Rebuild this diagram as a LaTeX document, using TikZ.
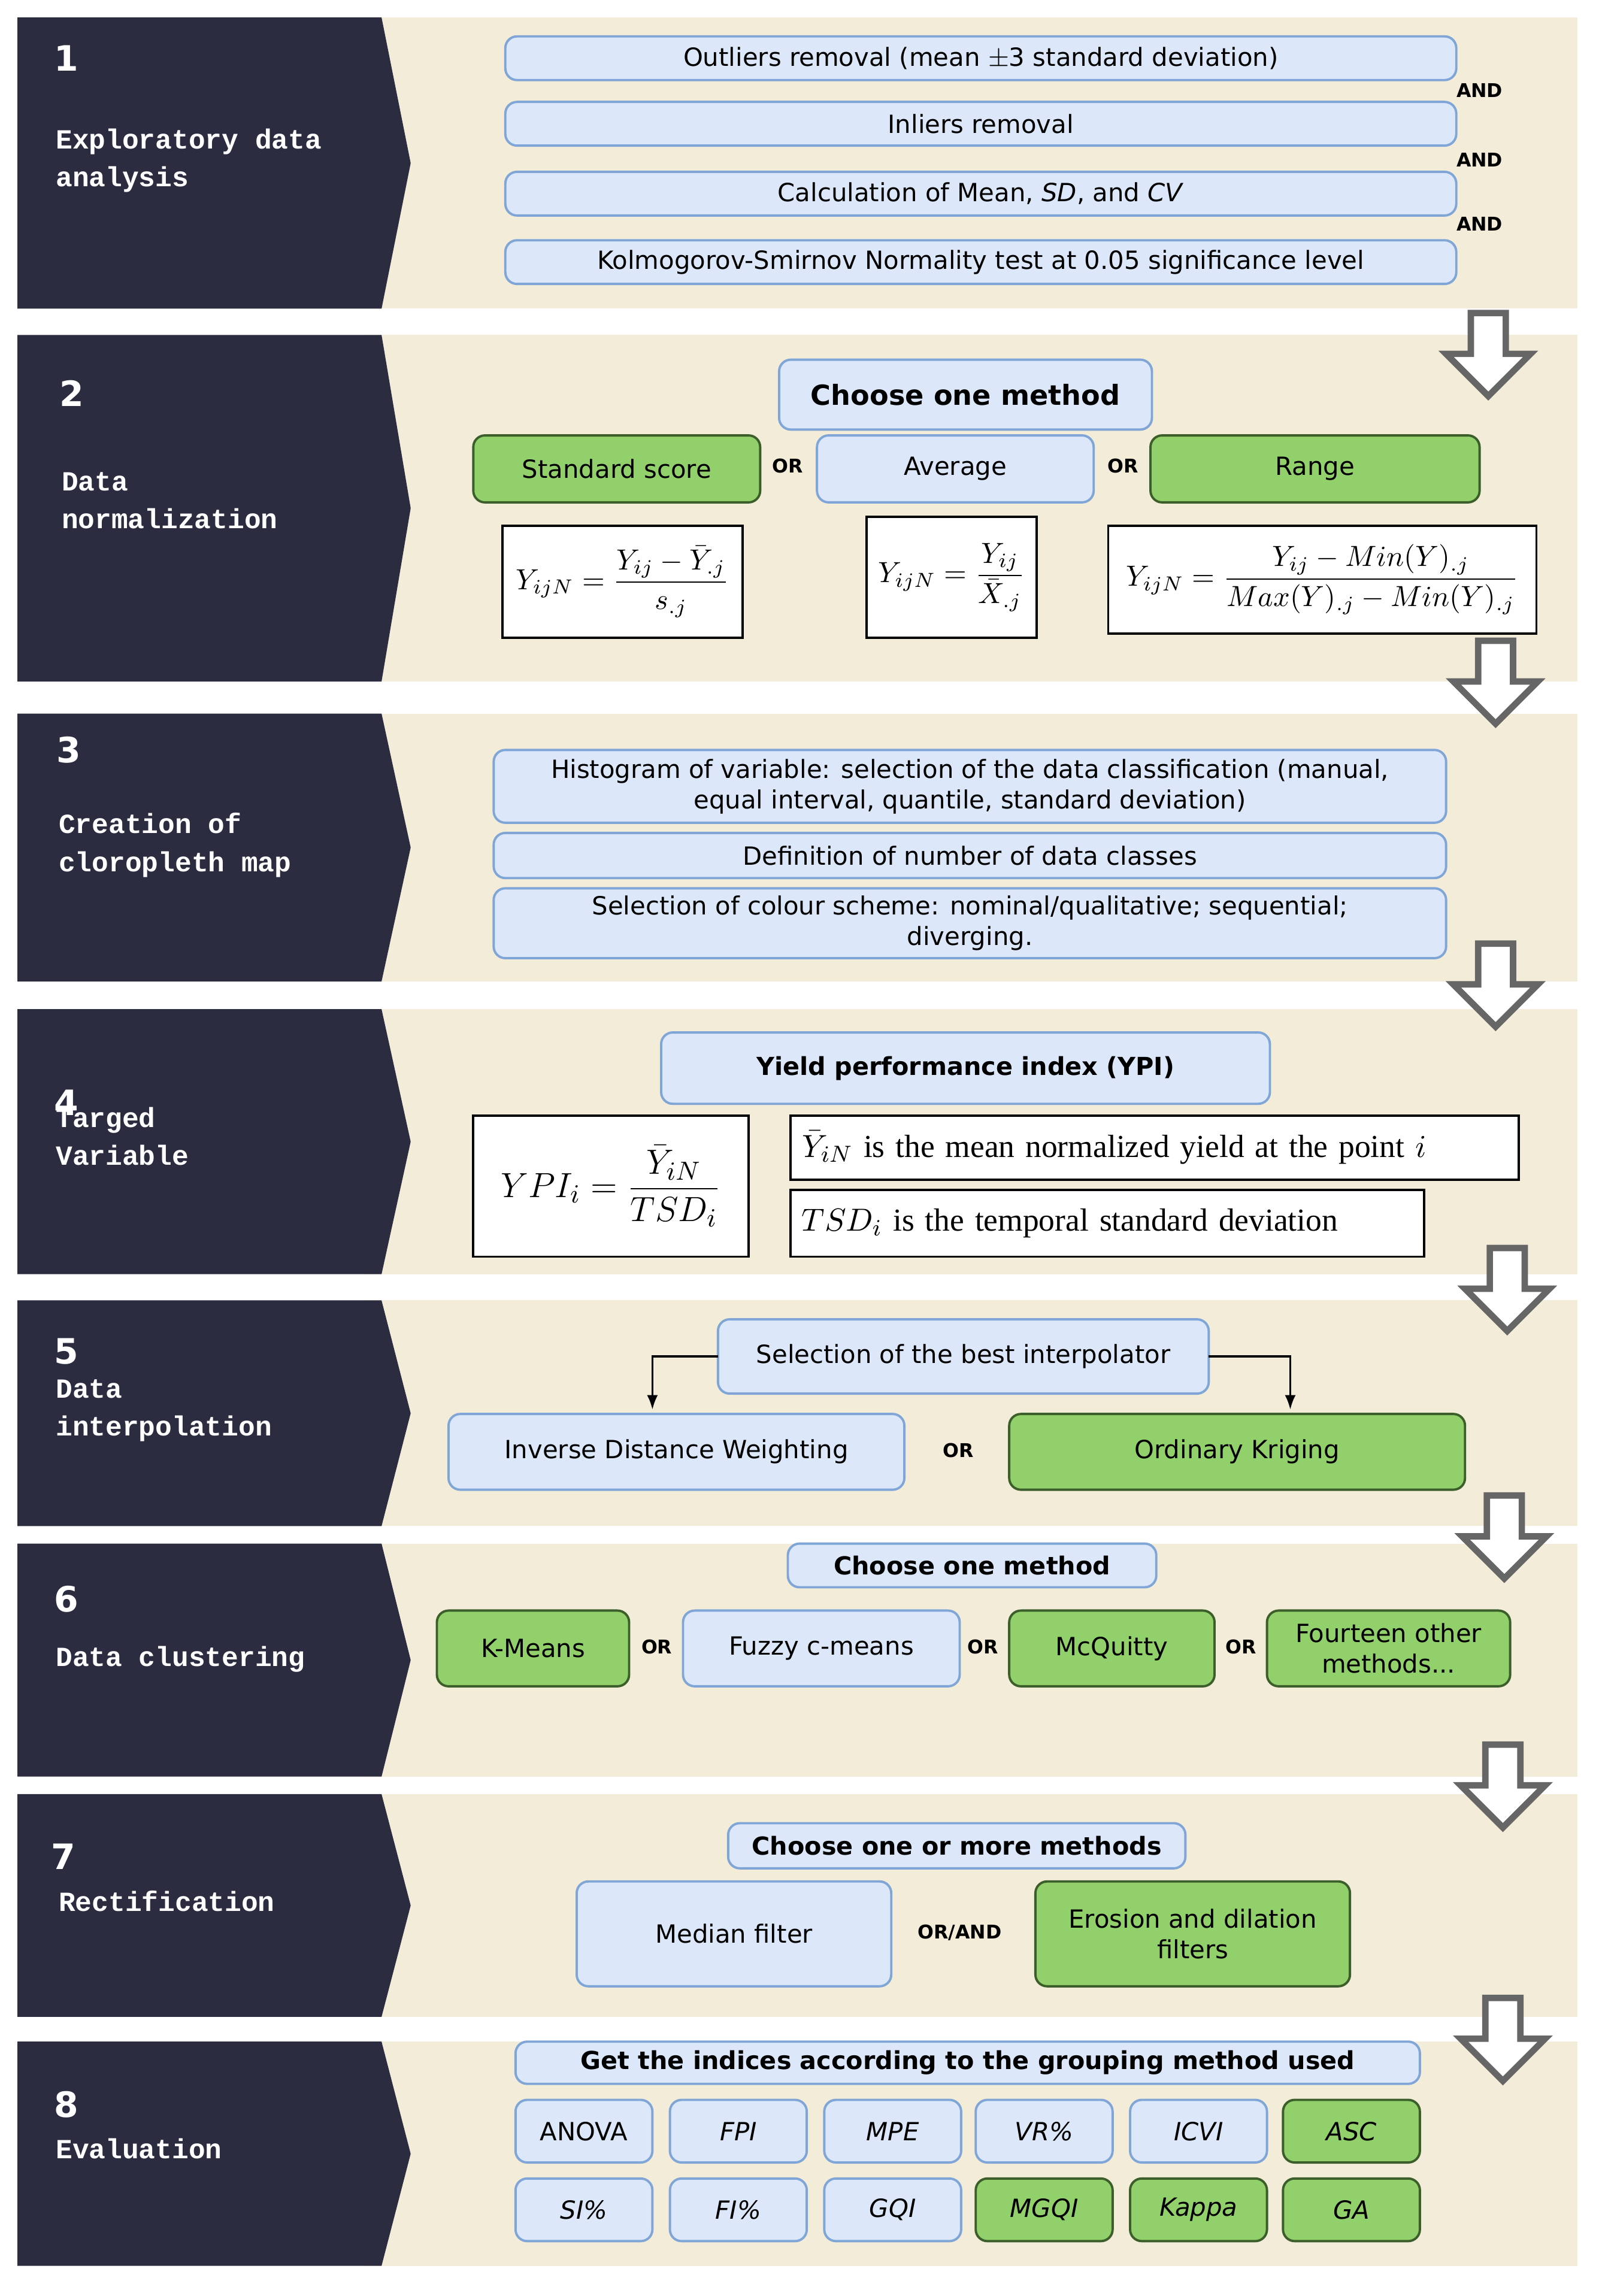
\documentclass[tikz,border=0pt]{standalone}
\usepackage{amsmath}
\usepackage{fontspec}
\setmainfont{DejaVu Sans}
\newfontfamily\lab{Liberation Mono}
\newfontfamily\tms{Liberation Serif}
\usetikzlibrary{arrows.meta,calc}
\definecolor{beige}{HTML}{F3ECD8}
\definecolor{dark}{HTML}{2C2C40}
\definecolor{lb}{HTML}{DCE8FA}
\definecolor{lbb}{HTML}{7FA6D6}
\definecolor{gr}{HTML}{92D06C}
\definecolor{grb}{HTML}{3B5E2A}
\tikzset{
 bl/.style={draw=lbb,fill=lb,rounded corners=4pt,line width=0.8pt,align=center,font=\fontsize{8.6}{10.5}\selectfont},
 gn/.style={draw=grb,fill=gr,rounded corners=4pt,line width=0.8pt,align=center,font=\fontsize{8.6}{10.5}\selectfont},
 fm/.style={draw=black,fill=white,line width=0.8pt,align=center},
 tl/.style={font=\fontsize{6.5}{7}\selectfont\bfseries},
 num/.style={text=white,font=\fontsize{12}{12}\selectfont\bfseries,anchor=west},
 lbl/.style={text=white,font=\fontsize{9.5}{13}\lab\bfseries,anchor=north west,align=left,inner sep=0pt},
}
\newcommand\bx[7]{\node[#6,inner sep=1pt,outer sep=0pt,minimum width={(#4-#2)*0.5pt},minimum height={(#5-#3)*0.5pt}] (#1) at ({(#2+#4)/2},{-(#3+#5)/2}) {#7};}
\newcommand\band[2]{\fill[beige] (250,-#1) rectangle (1083,-#2);
 \fill[dark] (12,-#1) -- (262,-#1) -- (282,{-(#1+#2)/2}) -- (262,-#2) -- (12,-#2) -- cycle;}
\newcommand\darr[2]{\draw[gray!80!black,line width=2.2pt,fill=white,line join=miter]
 ({#1-12},-#2) -- ({#1+12},-#2) -- ({#1+12},{-#2-28}) -- ({#1+29},{-#2-28}) -- (#1,{-#2-57}) -- ({#1-29},{-#2-28}) -- ({#1-12},{-#2-28}) -- cycle;}
\begin{document}
\begin{tikzpicture}[x=0.5pt,y=0.5pt]
\useasboundingbox (0,0) rectangle (1100,-1576.7);
\fill[white] (0,0) rectangle (1100,-1576.7);
\band{12}{212}\band{230}{468}\band{490}{674}\band{693}{875}\band{893}{1048}\band{1060}{1220}\band{1232}{1385}\band{1402}{1556}
% labels
\node[num] at (30,-40) {1};
\node[lbl] at (38,-88) {Exploratory data\\analysis};
\node[num] at (34,-270) {2};
\node[lbl] at (42,-324) {Data\\normalization};
\node[num] at (32,-515) {3};
\node[lbl] at (40,-558) {Creation of\\cloropleth map};
\node[lbl] at (38,-760) {Targed\\Variable};
\node[num] at (30,-757) {4};
\node[num] at (30,-928) {5};
\node[lbl] at (38,-947) {Data\\interpolation};
\node[num] at (30,-1098) {6};
\node[lbl] at (38,-1130) {Data clustering};
\node[num] at (28,-1275) {7};
\node[lbl] at (40,-1298) {Rectification};
\node[num] at (30,-1445) {8};
\node[lbl] at (38,-1468) {Evaluation};
% band 1
\bx{a1}{347}{25}{1000}{55}{bl}{Outliers removal (mean $\pm$3 standard deviation)}
\bx{a2}{347}{70}{1000}{100}{bl}{Inliers removal}
\bx{a3}{347}{118}{1000}{148}{bl}{Calculation of Mean, \textit{SD}, and \textit{CV}}
\bx{a4}{347}{165}{1000}{195}{bl}{Kolmogorov-Smirnov Normality test at 0.05 significance level}
\node[tl] at (1016,-62) {AND};\node[tl] at (1016,-110) {AND};\node[tl] at (1016,-154) {AND};
% band 2
\bx{b0}{535}{247}{791}{295}{bl,font=\fontsize{9.5}{11}\selectfont\bfseries}{Choose one method}
\bx{b1}{325}{299}{522}{345}{gn}{Standard score}
\bx{b2}{561}{299}{751}{345}{bl}{Average}
\bx{b3}{790}{299}{1016}{345}{gn}{Range}
\node[tl] at (541,-320) {OR};\node[tl] at (771,-320) {OR};
\bx{f1}{345}{361}{510}{438}{fm}{$Y_{ijN}=\dfrac{Y_{ij}-\bar{Y}_{.j}}{s_{.j}}$}
\bx{f2}{595}{355}{712}{438}{fm}{$Y_{ijN}=\dfrac{Y_{ij}}{\bar{X}_{.j}}$}
\bx{f3}{761}{361}{1055}{435}{fm}{$Y_{ijN}=\dfrac{Y_{ij}-Min(Y)_{.j}}{Max(Y)_{.j}-Min(Y)_{.j}}$}
% band 3
\bx{c1}{339}{515}{993}{565}{bl}{Histogram of variable: selection of the data classification (manual,\\equal interval, quantile, standard deviation)}
\bx{c2}{339}{572}{993}{603}{bl}{Definition of number of data classes}
\bx{c3}{339}{610}{993}{658}{bl}{Selection of colour scheme: nominal/qualitative; sequential;\\diverging.}
% band 4
\bx{d0}{454}{709}{872}{758}{bl,font=\fontsize{8.5}{11}\selectfont\bfseries}{Yield performance index (YPI)}
\bx{d1}{325}{766}{514}{863}{fm,font=\fontsize{13}{15}\selectfont}{$YPI_i=\dfrac{\bar{Y}_{iN}}{TSD_i}$}
\bx{d2}{543}{766}{1043}{810}{fm,font=\fontsize{11}{13}\tms,text width=242pt,align=left}{$\bar{Y}_{iN}$ is the mean normalized yield at the point $i$}
\bx{d3}{543}{817}{978}{863}{fm,font=\fontsize{11}{13}\tms,text width=210pt,align=left}{$TSD_i$ is the temporal standard deviation}
% band 5
\bx{e0}{493}{906}{830}{957}{bl}{Selection of the best interpolator}
\bx{e1}{308}{971}{621}{1023}{bl}{Inverse Distance Weighting}
\bx{e2}{693}{971}{1006}{1023}{gn}{Ordinary Kriging}
\node[tl] at (658,-996) {OR};
\coordinate (p1) at (448,-968);\coordinate (p2) at (886,-968);
\draw[-{Latex[length=5pt]},line width=0.7pt] (e0.west) -| (p1);
\draw[-{Latex[length=5pt]},line width=0.7pt] (e0.east) -| (p2);
% band 6
\bx{g0}{541}{1060}{794}{1090}{bl,font=\fontsize{8.5}{11}\selectfont\bfseries}{Choose one method}
\bx{g1}{300}{1106}{432}{1158}{gn}{K-Means}
\bx{g2}{469}{1106}{659}{1158}{bl}{Fuzzy c-means}
\bx{g3}{693}{1106}{834}{1158}{gn}{McQuitty}
\bx{g4}{870}{1106}{1037}{1158}{gn}{Fourteen other\\methods...}
\node[tl] at (451,-1131) {OR};\node[tl] at (675,-1131) {OR};\node[tl] at (852,-1131) {OR};
% band 7
\bx{h0}{500}{1252}{814}{1283}{bl,font=\fontsize{8.5}{11}\selectfont\bfseries}{Choose one or more methods}
\bx{h1}{396}{1292}{612}{1364}{bl}{Median filter}
\bx{h2}{711}{1292}{927}{1364}{gn}{Erosion and dilation\\filters}
\node[tl] at (659,-1327) {OR/AND};
% band 8
\bx{k0}{354}{1402}{975}{1431}{bl,font=\fontsize{8.5}{11}\selectfont\bfseries}{Get the indices according to the grouping method used}
\bx{k1}{354}{1442}{448}{1485}{bl}{ANOVA}
\bx{k2}{460}{1442}{554}{1485}{bl}{\textit{FPI}}
\bx{k3}{566}{1442}{660}{1485}{bl}{\textit{MPE}}
\bx{k4}{670}{1442}{764}{1485}{bl}{\textit{VR\%}}
\bx{k5}{776}{1442}{870}{1485}{bl}{\textit{ICVI}}
\bx{k6}{881}{1442}{975}{1485}{gn}{\textit{ASC}}
\bx{m1}{354}{1496}{448}{1539}{bl}{\textit{SI\%}}
\bx{m2}{460}{1496}{554}{1539}{bl}{\textit{FI\%}}
\bx{m3}{566}{1496}{660}{1539}{bl}{\textit{GQI}}
\bx{m4}{670}{1496}{764}{1539}{gn}{\textit{MGQI}}
\bx{m5}{776}{1496}{870}{1539}{gn}{\textit{Kappa}}
\bx{m6}{881}{1496}{975}{1539}{gn}{\textit{GA}}
% arrows
\darr{1022}{215}\darr{1027}{440}\darr{1027}{648}\darr{1035}{857}\darr{1033}{1027}\darr{1032}{1198}\darr{1032}{1372}
\end{tikzpicture}
\end{document}
